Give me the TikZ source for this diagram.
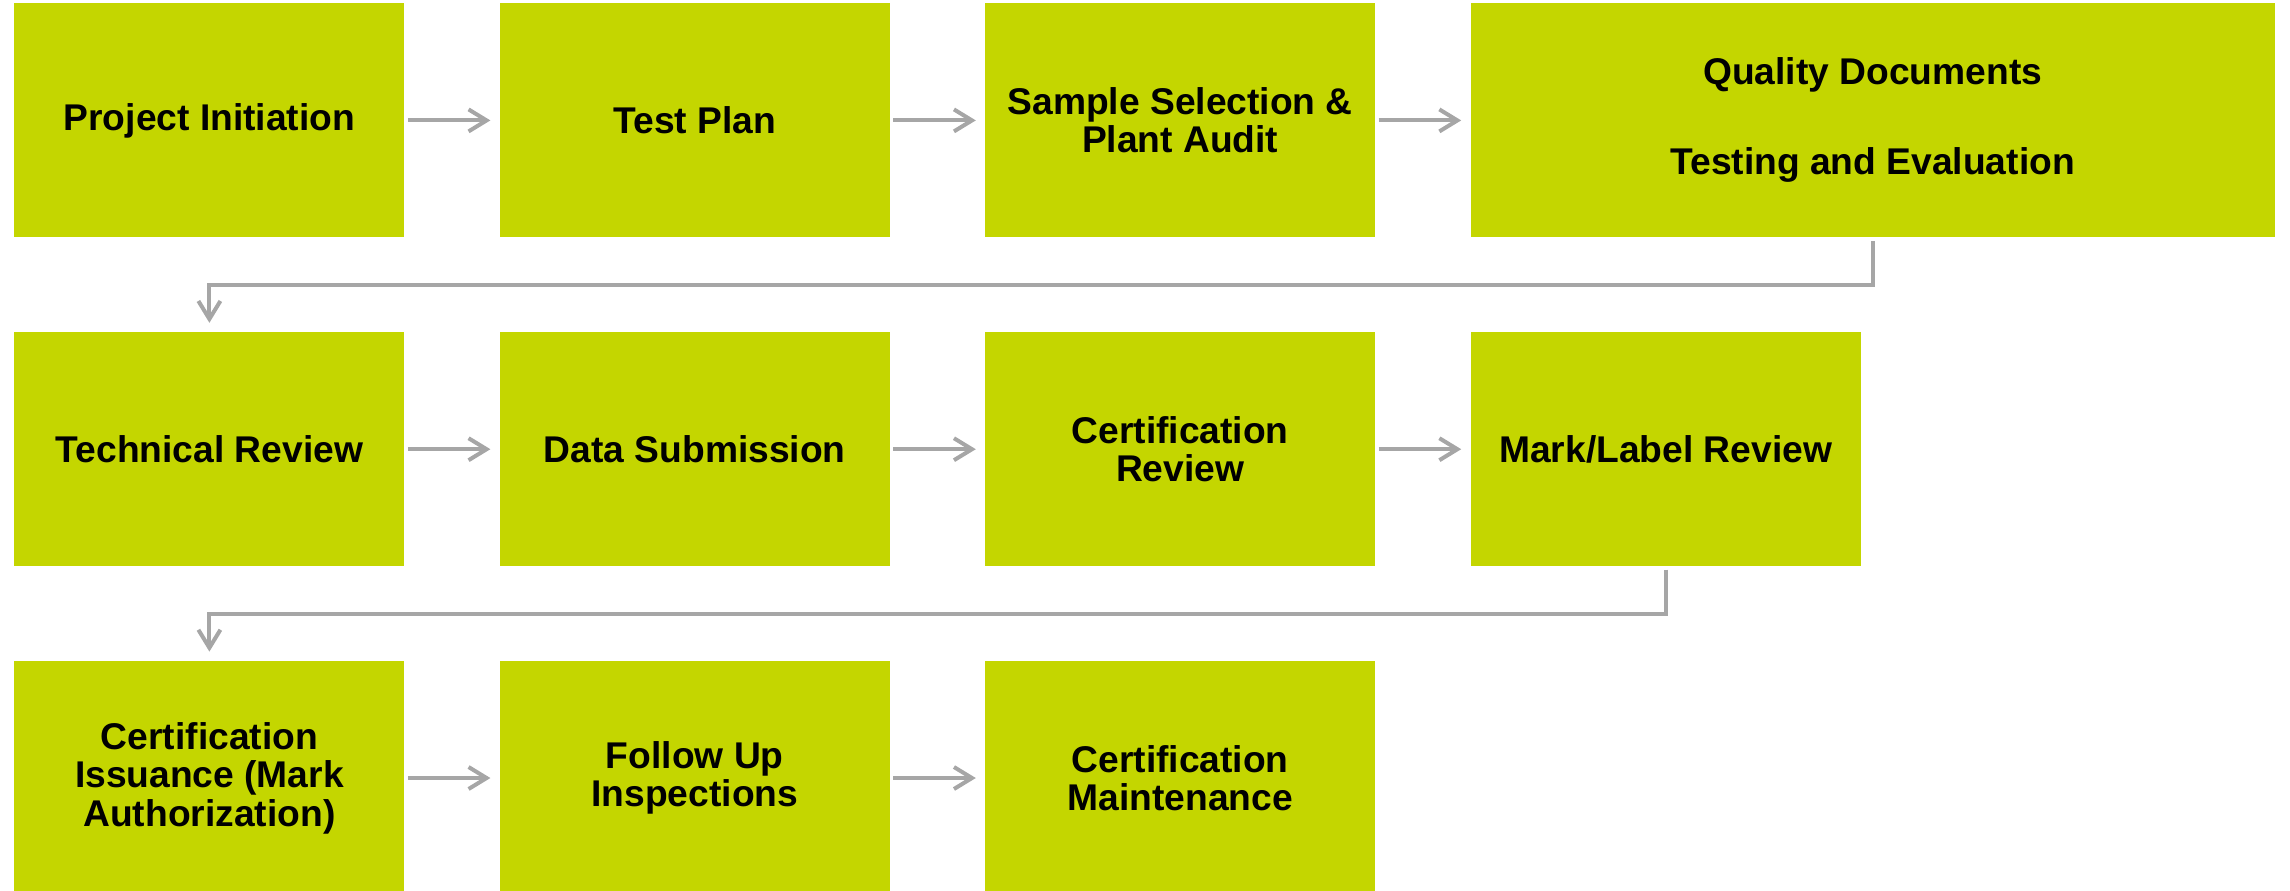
\documentclass[tikz,border=0pt]{standalone}
\usepackage{fontspec}
\setmainfont{Liberation Sans}
\usetikzlibrary{positioning}
\usetikzlibrary{arrows.meta}
\usetikzlibrary{calc}

\definecolor{stagegreen}{RGB}{196,214,0}
\definecolor{flowgray}{RGB}{166,166,166}

\begin{document}
\begin{tikzpicture}
			\tikzset{
				stage/.style={rectangle, fill=stagegreen, minimum width=195pt, minimum height=117pt, inner sep=0pt, align=center, font=\bfseries\fontsize{18.6pt}{19.2pt}\selectfont},
				widestage/.style={stage, minimum width=402pt},
				flow/.style={-{Straight Barb[length=9pt,width=11pt]}, draw=flowgray, line width=2pt, shorten <=1.5pt, shorten >=4.5pt},
				node distance=47pt and 47.3pt,
			}
			\useasboundingbox (0,0) rectangle (1145pt,-445pt);

			\node[stage, anchor=north west] (init) at (7pt,-1.5pt) {Project Initiation};
			\node[stage, right = of init] (testplan) {Test Plan};
			\node[stage, right = of testplan] (sample) {Sample Selection \&\\Plant Audit};
			\node[widestage, right = of sample] (quality) {Quality Documents\\[25.8pt]Testing and Evaluation};

			\node[stage, below = of init] (techrev) {Technical Review};
			\node[stage, right = of techrev] (datasub) {Data Submission};
			\node[stage, right = of datasub] (certrev) {Certification\\Review};
			\node[stage, right = of certrev] (marklabel) {Mark/Label Review};

			\node[stage, below = of techrev] (issuance) {Certification\\Issuance (Mark\\Authorization)};
			\node[stage, right = of issuance] (followup) {Follow Up\\Inspections};
			\node[stage, right = of followup] (maint) {Certification\\Maintenance};

			\draw[flow] (init) -- (testplan);
			\draw[flow] (testplan) -- (sample);
			\draw[flow] (sample) -- (quality);
			\draw[flow] (quality.south) |- ($(quality.south)!.5!(techrev.north)$) -| (techrev.north);

			\draw[flow] (techrev) -- (datasub);
			\draw[flow] (datasub) -- (certrev);
			\draw[flow] (certrev) -- (marklabel);
			\draw[flow] (marklabel.south) |- ($(marklabel.south)!.5!(issuance.north)$) -| (issuance.north);

			\draw[flow] (issuance) -- (followup);
			\draw[flow] (followup) -- (maint);
		\end{tikzpicture}
\end{document}
